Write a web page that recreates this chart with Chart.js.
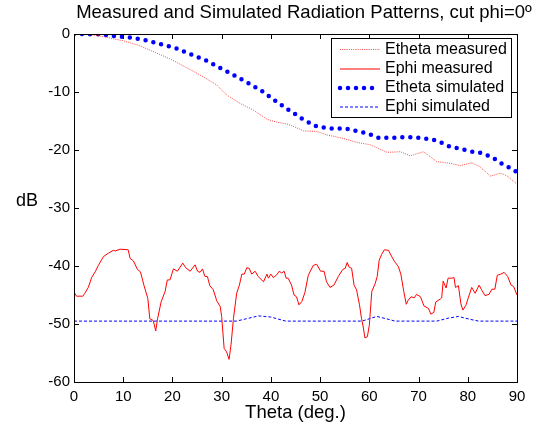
<!DOCTYPE html>
<html>
<head>
<meta charset="utf-8">
<script src="https://cdn.jsdelivr.net/npm/chart.js@4.4.1/dist/chart.umd.min.js"></script>
<style>
  html, body { margin: 0; padding: 0; background: #fff; }
  #wrap { width: 539px; height: 431px; }
</style>
</head>
<body>
<div id="wrap"><canvas id="c" width="539" height="431"></canvas></div>
<script>
// Axis ticks
const xTicks = [0, 10, 20, 30, 40, 50, 60, 70, 80, 90];
const yTicks = [-60, -50, -40, -30, -20, -10, 0];

// Etheta measured (theta deg, dB)
const ethetaMeasTheta = [0, 3, 5, 6.5, 9.9, 13.1, 16.3, 19.5, 22.9, 26.3, 29, 31, 33.7, 36.4, 39.2, 41.2, 43.2, 44.5, 46.6, 49.3, 51.4, 54.7, 57.5, 60.2, 63.6, 66.3, 68.3, 71, 73.7, 76.4, 78.5, 80.8, 82.5, 84.6, 86.6, 87.9, 90];
const ethetaMeasDb = [0, -0.1, -0.3, -0.57, -1.15, -1.95, -3.1, -4.3, -5.8, -7.4, -8.8, -10.5, -11.95, -13.1, -14.7, -15.2, -15.5, -15.9, -16.7, -16.8, -17.4, -18, -18.7, -19.1, -20.4, -20.3, -21, -20.3, -22, -22.3, -22.7, -22.2, -22.9, -24.5, -24, -24.4, -25.9];

// Ephi measured
const ephiMeasTheta = [0, 0.5, 1.8, 2.2, 2.9, 3.6, 4.3, 4.95, 5.96, 6.97, 8, 8.4, 9.35, 11, 11.4, 12.05, 12.9, 13.5, 14.2, 15, 15.4, 16.1, 16.6, 17, 17.7, 18.5, 18.96, 19.5, 20.2, 21, 22.1, 22.7, 23.6, 24.6, 25.1, 25.6, 26.1, 26.6, 27.1, 27.6, 28.3, 29, 29.7, 30, 30.5, 31, 31.5, 31.9, 32.4, 33.05, 33.6, 34.1, 34.6, 35.1, 35.6, 36.1, 36.8, 37.4, 38.5, 39.2, 39.5, 40, 40.5, 41.2, 41.7, 42.2, 42.7, 43.1, 43.5, 44.2, 44.7, 45.2, 45.7, 46.3, 46.9, 47.6, 48.6, 49.3, 50.1, 50.8, 51.3, 52, 52.8, 53.7, 54.6, 55.1, 55.5, 55.9, 56.4, 56.9, 57.4, 58, 58.4, 58.8, 59.1, 59.6, 60, 60.5, 61.2, 61.6, 62, 62.5, 63.05, 63.9, 64.5, 65.1, 65.9, 66.4, 67, 67.5, 67.9, 68.5, 69.1, 69.6, 70.4, 71.1, 72, 72.5, 73.1, 73.5, 74.4, 74.7, 75, 75.6, 76, 76.7, 77.2, 77.5, 78.1, 78.6, 79, 79.6, 80.1, 80.8, 81.5, 82.3, 82.8, 83.5, 84.3, 84.9, 85.5, 86, 86.7, 87.4, 88.1, 88.8, 89.3, 90];
const ephiMeasDb = [-44.5, -45.2, -45.2, -44.7, -43.7, -41.95, -41, -39.9, -38.4, -37.8, -37.3, -37.4, -37.1, -37.2, -38.7, -39.1, -40.6, -41, -43.3, -45.6, -49.1, -49.4, -51.2, -49, -46.2, -44.4, -42.4, -42.4, -40.5, -40.9, -39.5, -40.3, -40.9, -39.8, -40.9, -41.1, -40.5, -41.8, -41.8, -43.4, -44.1, -46, -47, -48.7, -54.2, -54.8, -56.1, -53.6, -49, -44.7, -43.3, -41.4, -41.4, -40.3, -40.4, -41.4, -40.9, -41.8, -42.7, -41.4, -42.1, -41.4, -42, -41.5, -40.9, -41.2, -40.9, -42.1, -42.1, -43.3, -45, -45.3, -46.7, -46.1, -44.6, -41.6, -39.9, -39.7, -40.9, -40.9, -42.7, -43.7, -43.3, -41.8, -40.6, -40.4, -39.4, -40.2, -40.4, -43.3, -44.1, -46.7, -49, -50.7, -52.4, -52.2, -50.2, -44.4, -43, -41.8, -39, -38, -37.2, -37.3, -38.3, -39.2, -40.1, -41.4, -44.4, -46.6, -45.9, -45.3, -45.5, -44.9, -45.3, -46.9, -47.3, -48.3, -48, -46.2, -45.7, -45.5, -42.6, -43.8, -42.1, -42.1, -42, -43.7, -43.4, -46.5, -47.6, -46.8, -45.5, -43.7, -44.7, -43.3, -44.1, -45.1, -44.9, -44, -44, -41.6, -41.4, -41.1, -41.8, -43.3, -43.5, -45];

// Etheta simulated
const ethetaSimTheta = [0, 5, 8.3, 11.5, 14.7, 17.8, 20.9, 24, 26.9, 29.8, 32.7, 35.5, 38.3, 40.9, 43.6, 45, 46.3, 47.8, 49.2, 50.9, 52.5, 54.1, 55.8, 57.3, 58.9, 60.4, 61.9, 63.5, 65.1, 66.7, 68.4, 70, 71.6, 73.2, 74.8, 76.3, 77.9, 79.5, 81, 82.6, 84.2, 85.6, 87, 88.4, 90];
const ethetaSimDb = [0, -0.06, -0.34, -0.6, -1.1, -1.8, -2.5, -3.6, -4.6, -5.9, -7.2, -8.5, -9.9, -11.5, -13.1, -13.85, -14.6, -15.3, -15.9, -16.15, -16.3, -16.3, -16.4, -16.7, -17, -17.4, -17.9, -17.9, -17.9, -17.8, -17.8, -17.9, -18.05, -18.3, -18.8, -19.4, -19.7, -20, -20.3, -20.5, -21, -21.6, -22.4, -23, -23.8];

// Ephi simulated
const ephiSimTheta = [0, 33, 35, 37.5, 40, 43, 58.5, 60, 61.5, 63.5, 65.2, 73.7, 76, 78.1, 80.5, 82.2, 90];
const ephiSimDb = [-49.5, -49.5, -49.1, -48.6, -48.8, -49.5, -49.5, -49.1, -48.7, -49.1, -49.5, -49.5, -49.0, -48.7, -49.2, -49.5, -49.5];

const seriesNames = ['Etheta measured', 'Ephi measured', 'Etheta simulated', 'Ephi simulated'];

const FONT = '"Liberation Sans", Arial, Helvetica, sans-serif';

function pts(xs, ys) {
  return xs.map((x, i) => ({ x: x, y: ys[i] }));
}

// Box, inward ticks, title, axis labels and legend, MATLAB style
const matlabFrame = {
  id: 'matlabFrame',
  afterDraw(chart) {
    const ctx = chart.ctx;
    const a = chart.chartArea;
    const xs = chart.scales.x, ys = chart.scales.y;
    ctx.save();
    ctx.strokeStyle = '#000';
    ctx.lineWidth = 1;
    ctx.beginPath();
    xTicks.forEach(v => {
      const px = Math.round(xs.getPixelForValue(v)) + 0.5;
      ctx.moveTo(px, a.bottom); ctx.lineTo(px, a.bottom - 5);
      ctx.moveTo(px, a.top); ctx.lineTo(px, a.top + 5);
    });
    yTicks.forEach(v => {
      const py = Math.round(ys.getPixelForValue(v)) + 0.5;
      ctx.moveTo(a.left, py); ctx.lineTo(a.left + 5, py);
      ctx.moveTo(a.right, py); ctx.lineTo(a.right - 5, py);
    });
    ctx.stroke();
    ctx.strokeRect(Math.round(a.left) + 0.5, Math.round(a.top) + 0.5,
      Math.round(a.right - a.left), Math.round(a.bottom - a.top));

    ctx.fillStyle = '#000';
    ctx.textBaseline = 'middle';
    ctx.textAlign = 'center';
    ctx.font = '18.5px ' + FONT;
    ctx.fillText('Measured and Simulated Radiation Patterns, cut phi=0º', 304, 13);
    ctx.fillText('Theta (deg.)', (a.left + a.right) / 2, 413);
    ctx.font = '18px ' + FONT;
    ctx.fillText('dB', 27, 201);

    // legend
    const L = { x: 331.5, y: 38.5, w: 180, h: 79 };
    ctx.fillStyle = '#fff';
    ctx.fillRect(L.x, L.y, L.w, L.h);
    ctx.strokeStyle = '#000';
    ctx.strokeRect(L.x, L.y, L.w, L.h);
    const rows = [49.5, 69, 88, 107];
    chart.data.datasets.forEach((ds, i) => {
      const y = rows[i];
      ctx.save();
      ctx.strokeStyle = ds.borderColor;
      ctx.lineWidth = ds.borderWidth;
      ctx.lineCap = ds.borderCapStyle || 'butt';
      ctx.setLineDash(ds.borderDash || []);
      ctx.beginPath();
      ctx.moveTo(340, y); ctx.lineTo(380, y);
      ctx.stroke();
      ctx.restore();
      ctx.fillStyle = '#000';
      ctx.textAlign = 'left';
      ctx.font = '16px ' + FONT;
      ctx.fillText(ds.label, 385, y);
    });
    ctx.restore();
  }
};

new Chart(document.getElementById('c'), {
  type: 'scatter',
  data: {
    datasets: [
      {
        label: seriesNames[0],
        data: pts(ethetaMeasTheta, ethetaMeasDb),
        showLine: true, borderColor: 'rgba(255,40,40,0.85)', borderWidth: 1,
        borderDash: [1, 1.2], pointRadius: 0, tension: 0
      },
      {
        label: seriesNames[1],
        data: pts(ephiMeasTheta, ephiMeasDb),
        showLine: true, borderColor: '#ff0000', borderWidth: 1,
        pointRadius: 0, tension: 0
      },
      {
        label: seriesNames[2],
        data: pts(ethetaSimTheta, ethetaSimDb),
        showLine: true, borderColor: '#0000ff', borderWidth: 4.5,
        borderDash: [0, 8], borderCapStyle: 'round', pointRadius: 0, tension: 0
      },
      {
        label: seriesNames[3],
        data: pts(ephiSimTheta, ephiSimDb),
        showLine: true, borderColor: '#0000ff', borderWidth: 1,
        borderDash: [3, 2], pointRadius: 0, tension: 0
      }
    ]
  },
  options: {
    responsive: false,
    animation: false,
    layout: { padding: { top: 34, right: 22, left: 0, bottom: 0 } },
    plugins: { legend: { display: false }, tooltip: { enabled: false }, title: { display: false } },
    scales: {
      x: {
        type: 'linear', min: 0, max: 90,
        afterFit: s => { s.height = 49; },
        afterBuildTicks: s => { s.ticks = xTicks.map(v => ({ value: v })); },
        grid: { display: false, drawTicks: false },
        border: { display: false },
        ticks: { color: '#000', font: { family: FONT, size: 15 }, padding: 6, maxRotation: 0 }
      },
      y: {
        type: 'linear', min: -60, max: 0,
        afterFit: s => { s.width = 74; },
        afterBuildTicks: s => { s.ticks = yTicks.map(v => ({ value: v })); },
        grid: { display: false, drawTicks: false },
        border: { display: false },
        ticks: { color: '#000', font: { family: FONT, size: 15 }, padding: 4 }
      }
    }
  },
  plugins: [matlabFrame]
});
</script>
</body>
</html>
